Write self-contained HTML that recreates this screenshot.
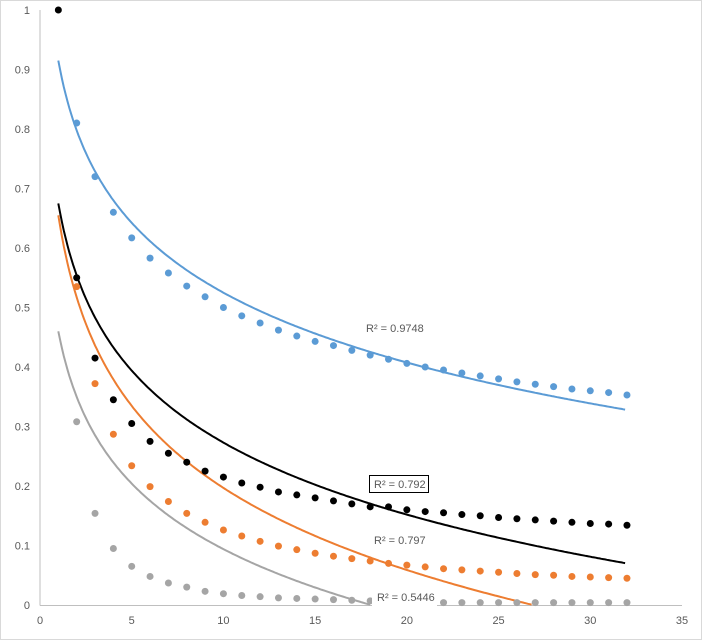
<!DOCTYPE html>
<html><head><meta charset="utf-8"><style>
html,body{margin:0;padding:0;background:#fff}
svg{display:block}
text{font-family:"Liberation Sans",sans-serif;font-size:11px;fill:#595959}
</style></head><body>
<svg id="s" width="702" height="640" xmlns="http://www.w3.org/2000/svg">
<rect x="0.5" y="0.5" width="701" height="639" fill="#fff" stroke="#d9d9d9"/>
<line x1="40" y1="10" x2="40" y2="605.5" stroke="#bfbfbf"/>
<line x1="40" y1="605.5" x2="682" y2="605.5" stroke="#bfbfbf"/>
<g id="g"></g>
</svg>
<script>
var X=function(v){return 40+v*642/35},Y=function(v){return 605-v*595};
var g=document.getElementById('g'),h='';
for(var i=0;i<=10;i++){h+='<text x="30" y="'+(Y(i/10)+4)+'" text-anchor="end">'+(i==0?'0':i==10?'1':'0.'+i)+'</text>';}
for(var i=0;i<=35;i+=5){h+='<text x="'+X(i)+'" y="624" text-anchor="middle">'+i+'</text>';}
function line(a,b,c){var p='';for(var x=1;x<=32;x+=0.1){var y=a-b*Math.log(x);if(y<0)break;p+=(p?'L':'M')+X(x).toFixed(1)+','+Y(y).toFixed(1);}
h+='<path d="'+p+'" fill="none" stroke="'+c+'" stroke-width="2"/>';}
function dots(d,c,s){for(var i=0;i<d.length;i++){if(d[i]==null)continue;h+='<circle cx="'+X(s+i)+'" cy="'+Y(d[i])+'" r="3.5" fill="'+c+'"/>';}}
line(.915,.1694,'#5b9bd5');
line(.675,.1746,'#000');
line(.655,.199,'#ed7d31');
line(.46,.159,'#a5a5a5');
dots([.81,.72,.66,.617,.583,.558,.536,.518,.50,.486,.474,.462,.452,.443,.436,.428,.42,.413,.406,.40,.395,.39,.385,.38,.375,.371,.367,.363,.36,.357,.353],'#5b9bd5',2);
dots([.535,.372,.287,.234,.199,.174,.154,.139,.126,.116,.107,.099,.093,.087,.082,.078,.074,.07,.067,.064,.061,.059,.057,.055,.053,.051,.05,.048,.047,.046,.045],'#ed7d31',2);
dots([.308,.154,.095,.065,.048,.037,.03,.023,.019,.016,.014,.012,.011,.01,.009,.008,.007,.005,.005,.005,.004,.004,.004,.004,.004,.004,.004,.004,.004,.004,.004],'#a5a5a5',2);
dots([1,.55,.415,.345,.305,.275,.255,.24,.225,.215,.205,.198,.19,.185,.18,.175,.17,.165,.165,.16,.157,.155,.152,.15,.147,.145,.143,.141,.139,.137,.136,.134],'#000',1);
h+='<text x="366" y="332" font-size="10">R² = 0.9748</text>';
h+='<rect x="369.5" y="475.5" width="59" height="17" fill="#fff" stroke="#000"/><text x="374" y="488" font-size="10">R² = 0.792</text>';
h+='<text x="374" y="544" font-size="10">R² = 0.797</text>';
h+='<rect x="372" y="589" width="65" height="19" fill="#fff"/><text x="377" y="601" font-size="10">R² = 0.5446</text>';
g.innerHTML=h;
</script>
</body></html>
